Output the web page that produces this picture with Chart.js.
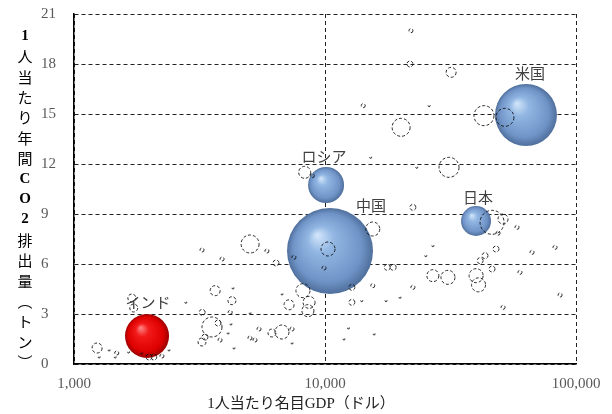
<!DOCTYPE html>
<html>
<head>
<meta charset="utf-8">
<script src="https://cdn.jsdelivr.net/npm/chart.js@4"></script>
<style>
  body { margin: 0; background: #fff; }
  #wrap { width: 612px; height: 414px; }
</style>
</head>
<body>
<div id="wrap"><canvas id="bubbleChart" width="612" height="414"></canvas></div>
<script>
// 主要国: 1人当たり名目GDP(ドル), 1人当たりCO2(トン), CO2総排出量(百万トン)
const mainNames = ['米国', '中国', '日本', 'ロシア', 'インド'];
const mainGdp = [63200, 10470, 39970, 10100, 1954];
const mainCo2 = [14.94, 6.78, 8.58, 10.74, 1.68];
const mainTotal = [4940, 9510, 1157, 1666, 2489];

// その他の国
const otherGdp = [
  22000, 21800, 31800, 14200, 26000, 20100, 43000, 52100, 15200, 23200,
  31200, 8300, 8900, 3236, 3890, 5030, 5870, 6380, 7520, 10280,
  9910, 22400, 15500, 26900, 25200, 17700, 18700, 26900, 30900, 15500,
  22400, 12800, 46300, 51200, 48900, 58200, 48000, 43400, 41500, 66800,
  82500, 46300, 59800, 40000, 40900, 86400, 51200, 12800, 14000, 17500,
  19900, 12400, 11900, 15700, 3650, 4300, 4260, 4190, 3240, 6740,
  8170, 8640, 7190, 8550, 5030, 3546, 3327, 3236, 3747, 3818,
  4109, 4338, 5024, 5260, 5458, 6150, 6740, 7390, 7390, 4220,
  1700, 1730, 2790, 1236, 1260, 1380, 1480, 1460, 1650, 1860,
  1990, 2080, 2240, 2390
];
const otherCo2 = [
  20.0, 18.0, 17.5, 15.5, 15.5, 14.2, 14.9, 14.8, 12.4, 11.8,
  11.8, 11.5, 11.3, 6.84, 6.3, 7.2, 6.78, 6.06, 6.4, 6.9,
  5.76, 9.4, 8.1, 7.1, 6.5, 5.8, 5.8, 5.3, 5.2, 4.7,
  4.6, 4.6, 8.5, 8.7, 7.85, 8.2, 6.9, 6.5, 6.2, 6.7,
  7.0, 5.7, 5.5, 5.3, 4.75, 4.14, 3.4, 3.7, 3.8, 3.8,
  4.0, 2.16, 1.5, 1.8, 4.4, 4.56, 3.8, 3.1, 3.1, 4.2,
  4.4, 3.7, 3.55, 3.2, 3.06, 2.22, 1.62, 1.32, 2.46, 1.44,
  1.86, 0.96, 1.56, 1.44, 2.1, 1.86, 1.92, 2.1, 1.26, 2.4,
  3.96, 3.36, 3.7, 0.96, 0.42, 0.84, 0.66, 0.42, 0.72, 0.66,
  0.42, 0.42, 0.48, 0.84
];
const otherTotal = [
  21, 46, 129, 21, 5, 416, 514, 416, 5, 5,
  514, 185, 21, 21, 21, 416, 21, 46, 21, 252,
  21, 46, 252, 5, 5, 46, 46, 185, 252, 21,
  21, 46, 740, 129, 21, 21, 46, 46, 46, 21,
  21, 46, 21, 252, 252, 21, 21, 46, 5, 5,
  5, 5, 5, 5, 129, 5, 82, 21, 46, 5,
  252, 185, 129, 185, 5, 514, 46, 82, 46, 21,
  5, 5, 21, 21, 21, 82, 252, 21, 5, 5,
  82, 82, 5, 129, 5, 5, 21, 5, 5, 5,
  46, 46, 21, 5
];

const xTicks = [1000, 10000, 100000];
const yTickStep = 3;
const yTitle = '1人当たり年間CO2排出量︵トン︶';
const xTitle = '1人当たり名目GDP（ドル）';

const SIZE_K = 0.441;
const toR = t => SIZE_K * Math.sqrt(t);

const otherPoints = otherGdp.map((g, i) => ({ x: g, y: otherCo2[i], r: toR(otherTotal[i]) }));
const mainPoints = mainGdp.map((g, i) => ({ x: g, y: mainCo2[i], r: toR(mainTotal[i]), name: mainNames[i] }));

// ラベル位置のずれ (px)
const labelOffset = { '米国': [4, -11], '中国': [41, -3], '日本': [2, -9], 'ロシア': [-2, -11], 'インド': [1, -12] };

function sphere(ctx) {
  const chart = ctx.chart;
  const raw = ctx.raw;
  const isRed = raw && raw.name === 'インド';
  if (!raw || !chart.chartArea) return isRed ? '#e00' : '#7ea3d6';
  const x = chart.scales.x.getPixelForValue(raw.x);
  const y = chart.scales.y.getPixelForValue(raw.y);
  const r = raw.r;
  const g = chart.ctx.createRadialGradient(x - 0.3 * r, y - 0.38 * r, 0, x, y, r);
  if (isRed) {
    g.addColorStop(0, '#ff8a8a');
    g.addColorStop(0.3, '#f21a1a');
    g.addColorStop(0.8, '#dd0000');
    g.addColorStop(1, '#9a0000');
  } else {
    g.addColorStop(0, '#d4e7fb');
    g.addColorStop(0.3, '#93b7e3');
    g.addColorStop(0.8, '#6f93c6');
    g.addColorStop(1, '#4f6f9c');
  }
  return g;
}

const dashPlugin = {
  id: 'dashCircles',
  beforeDatasetDraw(chart, args) {
    if (args.index === 0) { chart.ctx.save(); chart.ctx.setLineDash([3, 2]); }
  },
  afterDatasetDraw(chart, args) {
    if (args.index === 0) chart.ctx.restore();
  }
};

const textPlugin = {
  id: 'texts',
  afterDraw(chart) {
    const ctx = chart.ctx;
    const xs = chart.scales.x, ys = chart.scales.y;
    ctx.save();
    ctx.textAlign = 'center';
    ctx.textBaseline = 'middle';
    // 国名
    ctx.fillStyle = '#404040';
    ctx.font = '15px "Noto Sans CJK JP"';
    mainPoints.forEach(p => {
      const off = labelOffset[p.name];
      const px = xs.getPixelForValue(p.x) + off[0];
      const py = ys.getPixelForValue(p.y) - p.r + off[1];
      ctx.fillText(p.name, px, py);
    });
    // 縦軸タイトル
    ctx.fillStyle = '#000';
    Array.from(yTitle).forEach((ch, i) => {
      ctx.font = /[0-9A-Z]/.test(ch) ? 'bold 15px "Liberation Serif"' : '15px "Noto Sans CJK JP"';
      ctx.fillText(ch, 25, 36 + 20.4 * i);
    });
    // 横軸タイトル
    ctx.fillStyle = '#222';
    ctx.font = '15px "Liberation Serif", "Noto Sans CJK JP"';
    ctx.fillText(xTitle, 301, 404);
    ctx.restore();
  }
};

new Chart(document.getElementById('bubbleChart'), {
  type: 'bubble',
  data: {
    datasets: [
      {
        label: 'その他',
        data: otherPoints,
        backgroundColor: 'rgba(0,0,0,0)',
        borderColor: '#111',
        borderWidth: 0.9,
        hoverRadius: 0,
        clip: false
      },
      {
        label: '主要国',
        data: mainPoints,
        backgroundColor: sphere,
        borderWidth: 0,
        hoverRadius: 0,
        clip: false
      }
    ]
  },
  options: {
    responsive: false,
    animation: false,
    layout: { autoPadding: false, padding: { left: 41, top: 14, right: 36, bottom: 0 } },
    plugins: { legend: { display: false }, tooltip: { enabled: false } },
    scales: {
      x: {
        type: 'logarithmic',
        min: 1000,
        max: 100000,
        afterBuildTicks: s => { s.ticks = xTicks.map(v => ({ value: v })); },
        afterFit: s => { s.height = 50; },
        grid: { color: '#222', lineWidth: 1, drawTicks: false },
        border: { color: '#000', width: 1.5, dash: [4, 3] },
        ticks: {
          autoSkip: false,
          maxRotation: 0,
          padding: 11,
          color: '#595959',
          font: { family: 'Liberation Serif', size: 15 },
          callback: v => Number(v).toLocaleString('en-US')
        }
      },
      y: {
        min: 0,
        max: 21,
        afterFit: s => { s.width = 33; },
        grid: { color: '#222', lineWidth: 1, drawTicks: false },
        border: { color: '#000', width: 1.5, dash: [4, 3] },
        ticks: {
          stepSize: yTickStep,
          crossAlign: 'far',
          color: '#595959',
          font: { family: 'Liberation Serif', size: 15 }
        }
      }
    }
  },
  plugins: [dashPlugin, textPlugin]
});
</script>
</body>
</html>
